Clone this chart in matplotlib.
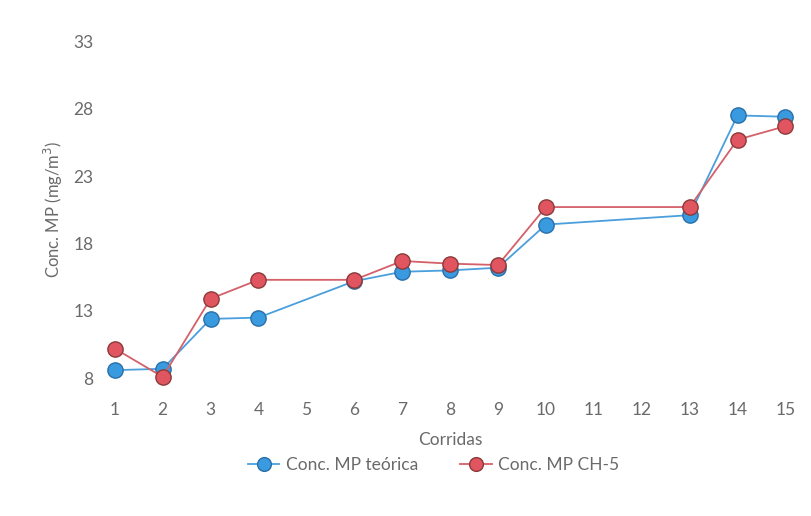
import numpy as np
import matplotlib.pyplot as plt

# runs (categories) and measured concentrations
corridas = ["1", "2", "3", "4", "5", "6", "7", "8", "9", "10", "11", "12", "13", "14", "15"]
runs_teorica = [1, 2, 3, 4, 6, 7, 8, 9, 10, 13, 14, 15]
conc_teorica = [8.6, 8.7, 12.4, 12.5, 15.2, 15.9, 16.0, 16.2, 19.4, 20.1, 27.5, 27.4]
runs_ch5 = [1, 2, 3, 4, 6, 7, 8, 9, 10, 13, 14, 15]
conc_ch5 = [10.2, 8.1, 13.9, 15.3, 15.3, 16.7, 16.5, 16.4, 20.7, 20.7, 25.7, 26.7]
yticks = [8, 13, 18, 23, 28, 33]

plt.rcParams['font.family'] = ['Lato', 'DejaVu Sans']
txt = '#6a6a6a'

fig = plt.figure(figsize=(8.11, 5.16), dpi=100)
ax = fig.add_axes([0.112, 0.267, 0.886, 0.653])

ax.plot(runs_teorica, conc_teorica, '-o', color='#4a9fdc', lw=1.3, clip_on=False,
        ms=11, mfc='#3a9ae0', mec='#2a6fa8', mew=1.0, label='Conc. MP teórica', zorder=3)
ax.plot(runs_ch5, conc_ch5, '-o', color='#d4606a', lw=1.3, clip_on=False,
        ms=11, mfc='#e05560', mec='#8a3a3a', mew=1.0, label='Conc. MP CH-5', zorder=4)

ax.set_xlim(0.5, 15.5)
ax.set_ylim(8, 33)
ax.set_xticks(np.arange(1, 16))
ax.set_xticklabels(corridas)
ax.set_yticks(yticks)
ax.tick_params(length=0, labelsize=12.5, colors=txt)
ax.tick_params(axis='x', pad=17)
ax.tick_params(axis='y', pad=-2)
for s in ax.spines.values():
    s.set_visible(False)

ax.set_xlabel('Corridas', fontsize=12.5, color=txt, labelpad=10)
ax.set_ylabel('Conc. MP (mg/m$^3$)', fontsize=12, color=txt, labelpad=6)

fig.legend(loc='center', bbox_to_anchor=(0.535, 0.098), ncol=2, frameon=False,
           fontsize=12.5, labelcolor=txt, handlelength=1.8, handletextpad=0.4,
           columnspacing=2.4, markerscale=0.9)

fig.savefig('out.png', dpi=100)
